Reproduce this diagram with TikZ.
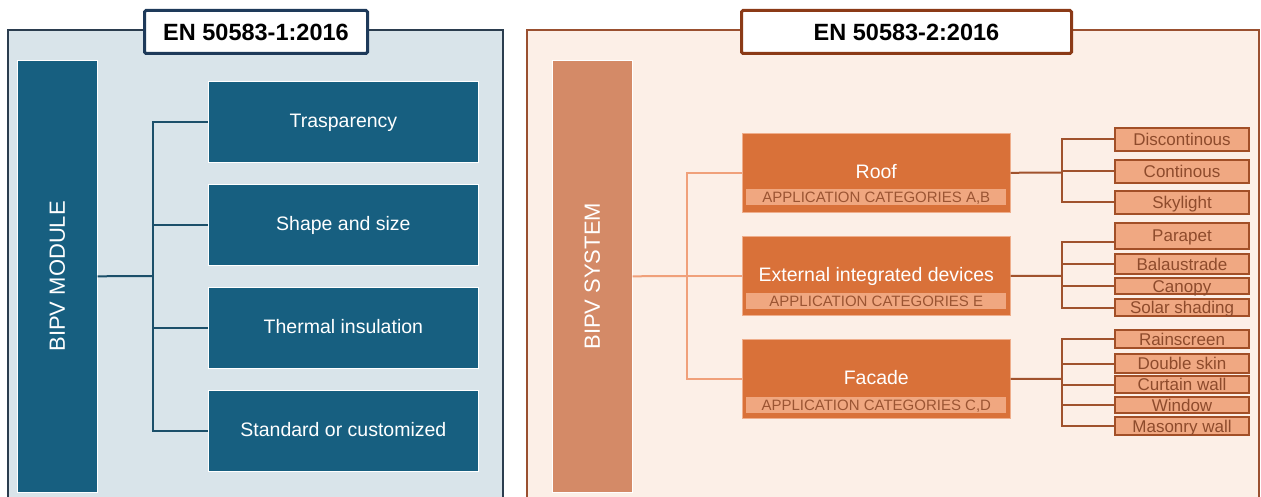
\documentclass[tikz,border=0pt]{standalone}
\usepackage{fontspec}
\setmainfont{Liberation Sans}
\definecolor{lpanel}{HTML}{D9E4EA}
\definecolor{lborder}{HTML}{2B3D4F}
\definecolor{ltitle}{HTML}{1E3A5A}
\definecolor{lbox}{HTML}{175F80}
\definecolor{lline}{HTML}{1B4F6A}
\definecolor{rpanel}{HTML}{FCEFE7}
\definecolor{rborder}{HTML}{9A5030}
\definecolor{rtitle}{HTML}{8B3A17}
\definecolor{rbar}{HTML}{D48A67}
\definecolor{rbox}{HTML}{D97139}
\definecolor{rboxedge}{HTML}{EFAE8C}
\definecolor{rsub}{HTML}{F0A780}
\definecolor{rsubtext}{HTML}{9B5533}
\definecolor{leaffill}{HTML}{F0A882}
\definecolor{leafedge}{HTML}{A24F27}
\definecolor{leaftext}{HTML}{8E4B2C}
\definecolor{rlinelight}{HTML}{F0A07A}
\definecolor{rlinedark}{HTML}{A0522D}
\begin{document}
\begin{tikzpicture}[x=1pt,y=-1pt,
  titlebox/.style={draw=#1, line width=3pt, fill=white, rounded corners=1.5pt, inner sep=0pt, anchor=north west,
     font=\fontsize{23.5}{25}\selectfont\bfseries},
  bar/.style={fill=#1, draw=white, line width=0.6pt, inner sep=0pt, anchor=north west, minimum width=80pt, minimum height=432pt},
  bartext/.style={text=white, font=\fontsize{22}{24}\selectfont, rotate=90},
  bluebox/.style={fill=lbox, draw=white, line width=0.8pt, inner sep=0pt, anchor=north west, minimum width=270pt, minimum height=81pt,
     text=white, font=\fontsize{19.5}{22}\selectfont, text height=14pt, text depth=3pt},
  catbox/.style={fill=rbox, draw=rboxedge, line width=0.6pt, inner sep=0pt, anchor=north west, minimum width=268pt, minimum height=79pt},
  cattext/.style={text=white, font=\fontsize{19.5}{22}\selectfont, inner sep=0pt, text height=14pt, text depth=3pt},
  subbar/.style={fill=rsub, inner sep=0pt, minimum width=260pt, minimum height=16pt, text=rsubtext, font=\fontsize{15}{16}\selectfont,
     text height=10.5pt, text depth=0pt},
  leaf/.style={fill=leaffill, draw=leafedge, line width=2pt, inner sep=0pt, anchor=north west, minimum width=134pt,
     text=leaftext, font=\fontsize{17}{18}\selectfont, text height=12pt, text depth=0pt},
  lconn/.style={draw=lline, line width=2pt},
  rconnl/.style={draw=rlinelight, line width=2pt},
  rconnd/.style={draw=rlinedark, line width=2pt}]
\useasboundingbox (0,0) rectangle (1261,497);
\clip (0,0) rectangle (1261,497);
% panels
\fill[lpanel, draw=lborder, line width=2pt] (8,30) rectangle (503,520);
\fill[rpanel, draw=rborder, line width=2pt] (527,30) rectangle (1259,520);
% titles
\node[titlebox=ltitle, minimum width=223pt, minimum height=43pt] (t1) at (143,9) {EN 50583-1:2016};
\node[titlebox=rtitle, minimum width=330pt, minimum height=43pt] (t2) at (740,9) {EN 50583-2:2016};
% left side
\node[bar=lbox] (mod) at (17,60) {};
\node[bartext] (modt) at (mod.center) {BIPV MODULE};
\node[bluebox] (b1) at (208,81) {Trasparency};
\node[bluebox] (b2) at (208,184) {Shape and size};
\node[bluebox] (b3) at (208,287) {Thermal insulation};
\node[bluebox] (b4) at (208,390) {Standard or customized};
\coordinate (lj) at (153,276);
\draw[lconn] (mod.east) -- (lj);
\foreach \b in {b1,b2,b3,b4} \draw[lconn] (\b.west) -| (lj);
% right side
\node[bar=rbar] (sys) at (552,60) {};
\node[bartext] (syst) at (sys.center) {BIPV SYSTEM};
\node[catbox] (roof) at (742,133) {};
\node[cattext] (rooft) at (roof.center) {Roof};
\node[subbar] (roofs) at ([yshift=-24.5pt]roof.center) {APPLICATION CATEGORIES A,B};
\node[catbox] (ext) at (742,236) {};
\node[cattext] (extt) at (ext.center) {External integrated devices};
\node[subbar] (exts) at ([yshift=-25.5pt]ext.center) {APPLICATION CATEGORIES E};
\node[catbox] (fac) at (742,339) {};
\node[cattext] (fact) at (fac.center) {Facade};
\node[subbar] (facs) at ([yshift=-26pt]fac.center) {APPLICATION CATEGORIES C,D};
\coordinate (rj) at (687,276);
\draw[rconnl] (sys.east) -- (rj);
\foreach \b in {roof,ext,fac} \draw[rconnl] (\b.west) -| (rj);
% leaves
\node[leaf, minimum height=23pt] (l1) at (1114,127) {Discontinous};
\node[leaf, minimum height=23pt] (l2) at (1114,159) {Continous};
\node[leaf, minimum height=23pt] (l3) at (1114,190) {Skylight};
\node[leaf, minimum height=26pt] (l4) at (1114,222) {Parapet};
\node[leaf, minimum height=20pt] (l5) at (1114,253) {Balaustrade};
\node[leaf, minimum height=16pt] (l6) at (1114,277) {Canopy};
\node[leaf, minimum height=17pt] (l7) at (1114,298) {Solar shading};
\node[leaf, minimum height=18pt] (l8) at (1114,329) {Rainscreen};
\node[leaf, minimum height=19pt] (l9) at (1114,353) {Double skin};
\node[leaf, minimum height=17pt] (l10) at (1114,375) {Curtain wall};
\node[leaf, minimum height=16pt] (l11) at (1114,396) {Window};
\node[leaf, minimum height=18pt] (l12) at (1114,416) {Masonry wall};
\coordinate (j1) at (1062,172.5);
\coordinate (j2) at (1062,276);
\coordinate (j3) at (1062,379);
\draw[rconnd] (roof.east) -- (j1);
\draw[rconnd] (ext.east) -- (j2);
\draw[rconnd] (fac.east) -- (j3);
\foreach \l in {l1,l2,l3} \draw[rconnd] (\l.west) -| (j1);
\draw[rconnd] ([yshift=-6pt]l4.west) -| (j2);
\foreach \l in {l5,l6,l7} \draw[rconnd] (\l.west) -| (j2);
\foreach \l in {l8,l9,l10,l11,l12} \draw[rconnd] (\l.west) -| (j3);
\end{tikzpicture}
\end{document}
